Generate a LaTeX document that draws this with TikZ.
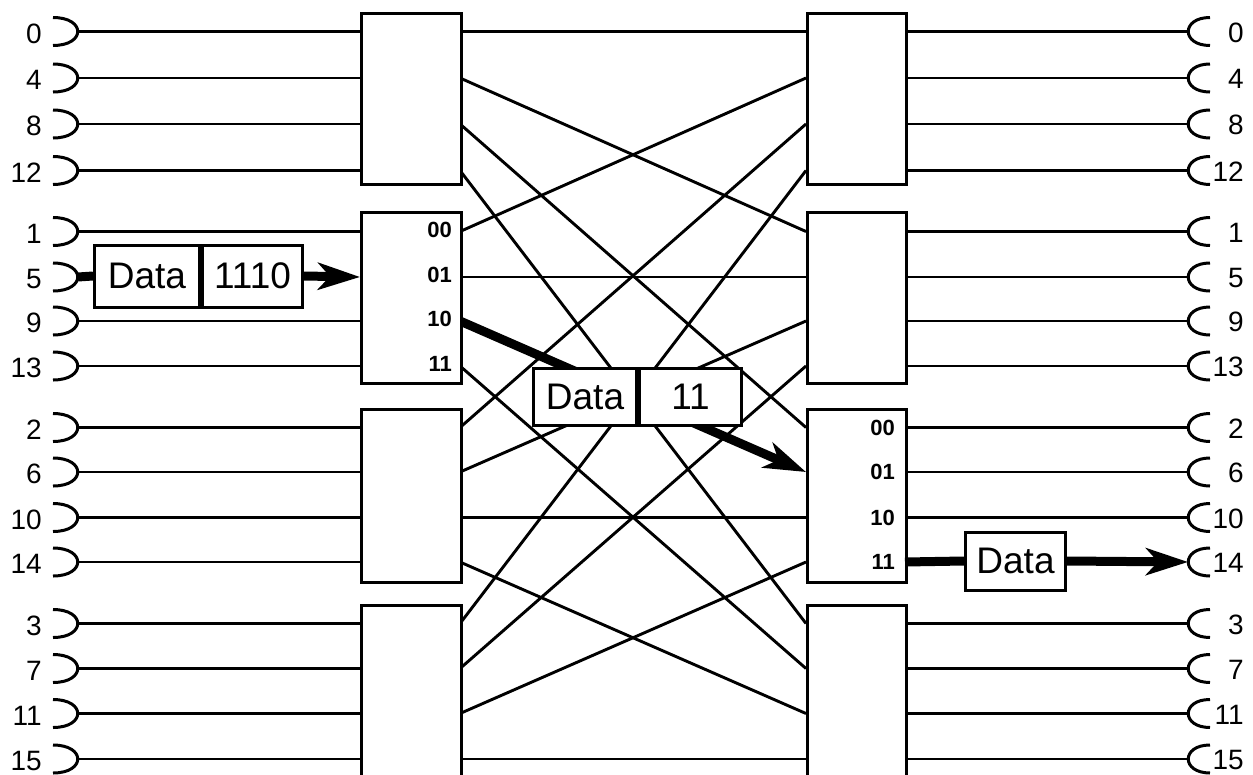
\documentclass[tikz,border=0pt]{standalone}
\usepackage{fontspec}
\setmainfont{Liberation Sans}
\usetikzlibrary{arrows.meta}
\begin{document}
\begin{tikzpicture}[x=1pt,y=-1pt,
  wire/.style={line width=2.9pt},
  swbox/.style={draw,line width=3pt,fill=white,inner sep=0pt,anchor=north west},
  thickwire/.style={line width=9pt},
  bigarrow/.style={line width=9pt,-{Stealth[length=42pt,width=27pt,inset=12pt]}},
  cup/.style={line width=3pt},
  rowlab/.style={font=\fontsize{28}{28}\selectfont,inner sep=0pt,anchor=east},
  portlab/.style={font=\fontsize{22}{22}\selectfont\bfseries,inner sep=0pt,anchor=east},
  dcell/.style={draw,line width=3pt,fill=white,inner sep=0pt,font=\fontsize{37}{37}\selectfont}
]
\useasboundingbox (0,0) rectangle (1253,774);
\clip (0,0) rectangle (1253,774);

% row coordinates and labels
\foreach \g/\j/\y in {0/0/31.5,0/1/78,0/2/124,0/3/170.5,
                      1/0/231.5,1/1/277,1/2/321,1/3/366,
                      2/0/427.5,2/1/472,2/2/517.5,2/3/562,
                      3/0/623.5,3/1/668.5,3/2/713.5,3/3/759}{
  \pgfmathtruncatemacro\n{4*\j+\g}
  \coordinate (LI\g\j) at (360,\y);
  \coordinate (LO\g\j) at (460,\y);
  \coordinate (RI\g\j) at (806,\y);
  \coordinate (RO\g\j) at (905,\y);
  \coordinate (CL\g\j) at (78,\y);
  \coordinate (CR\g\j) at (1188,\y);
  \node[rowlab] (lab\g\j) at (42,\y+2) {\n};
  \node[rowlab] (rlab\g\j) at (1244,\y+1) {\n};
}

% cups
\foreach \g in {0,...,3}{
  \foreach \j in {0,...,3}{
    \draw[cup] ([shift={(-25,-14)}]CL\g\j) .. controls +(33,0) and +(33,0) .. ([shift={(-25,14)}]CL\g\j);
    \draw[cup] ([shift={(22,-14)}]CR\g\j) .. controls +(-29,0) and +(-29,0) .. ([shift={(22,14)}]CR\g\j);
  }
}

% wires
\foreach \g in {0,...,3}{
  \foreach \j in {0,...,3}{
    \pgfmathtruncatemacro\k{10*\g+\j}
    \ifnum\k=11 \else \draw[wire] (CL\g\j) -- (LI\g\j); \fi
    \ifnum\k=23 \else \draw[wire] (RO\g\j) -- (CR\g\j); \fi
    \ifnum\k=12 \else \draw[wire] (LO\g\j) -- (RI\j\g); \fi
  }
}

% highlighted path
\draw[bigarrow] (LO12) -- (RI21);

% switch boxes
\foreach \g/\t/\h in {0/12/171, 1/211/171, 2/408/173, 3/604/200}{
  \node[swbox, minimum width=100pt, minimum height=\h pt] (L\g) at (360,\t) {};
  \node[swbox, minimum width=99pt, minimum height=\h pt] (R\g) at (806,\t) {};
}

% port labels
\foreach \j/\bits in {0/00,1/01,2/10,3/11}{
  \node[portlab] (pl\j) at ([xshift=-8pt,yshift=2pt]LO1\j) {\bits};
  \node[portlab] (pr\j) at ([xshift=-10pt]RO2\j) {\bits};
}

% data packets
\node[dcell, minimum width=105pt, minimum height=62pt, anchor=west] (d1a) at (93,276) {Data};
\node[dcell, minimum width=100pt, minimum height=62pt, anchor=west] (d1b) at (d1a.east) {1110};
\draw[thickwire] (CL11) -- (d1a.west);
\draw[bigarrow] (d1b.east) -- (LI11);

\node[dcell, minimum width=103pt, minimum height=57pt, anchor=west] (d2a) at (532,396.5) {Data};
\node[dcell, minimum width=102pt, minimum height=57pt, anchor=west] (d2b) at (d2a.east) {11};

\node[dcell, minimum width=100pt, minimum height=58pt] (d3) at (1015.5,561) {Data};
\draw[thickwire] (RO23) -- (d3.west);
\draw[bigarrow] (d3.east) -- (CR23);
\end{tikzpicture}
\end{document}
